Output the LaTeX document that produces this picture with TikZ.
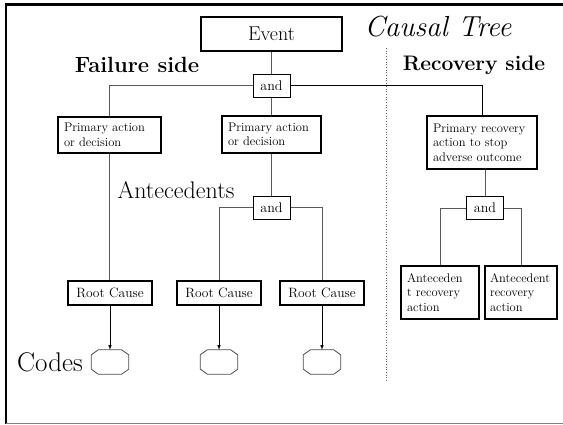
\documentclass[tikz,border=0pt]{standalone}
\usepackage{fontspec}
\usepackage{tikz}
\usetikzlibrary{positioning}

\begin{document}
\begin{tikzpicture}[x=1pt,y=-1pt,
        box/.style={draw,line width=1.2pt,inner sep=0pt,font=\fontsize{13.5}{15}\selectfont},
        andbox/.style={draw,line width=1pt,minimum width=37pt,minimum height=23pt,inner sep=0pt,font=\fontsize{14}{15}\selectfont},
        textbox/.style={draw,line width=1.2pt,align=left,inner xsep=6pt,inner ysep=0pt,font=\fontsize{12.5}{14.5}\selectfont},
        code/.style={minimum width=37pt,minimum height=24pt,inner sep=0pt},
        octagon/.style={draw=black!70,line width=0.8pt},
        link/.style={draw=black!65,line width=0.9pt},
        side/.style={font=\bfseries\fontsize{22}{24}\selectfont}]
        \useasboundingbox (0,0) rectangle (563,424);
        \draw[line width=2.5pt] (563,4.5) -- (6,4.5) -- (6,424);
        \draw[black!50,line width=1pt] (6,423) -- (563,423);
        \draw[dotted,black!60,line width=0.7pt] (386,48) -- (386,382);

        \node[box,minimum width=141pt,minimum height=34pt,font=\fontsize{20}{22}\selectfont] (event) at (271.5,34) {Event};
        \node[font=\itshape\fontsize{29}{30}\selectfont] (title) at (438,27) {Causal Tree};
        \node[side] (fail) at (137,65) {Failure side};
        \node[side,font=\bfseries\fontsize{21}{24}\selectfont] (recov) at (474,65) {Recovery side};
        \node[andbox] (and1) at (271.5,85.5) {and};

        \node[textbox,text width=91pt,minimum height=36pt] (act1) at (109.5,135) {Primary action\\or decision};
        \node[textbox,text width=87pt,minimum height=37pt] (act2) at (271.5,134.5) {Primary action\\or decision};
        \node[textbox,text width=98pt,minimum height=53pt] (rec) at (482,142.5) {Primary recovery\\action to stop\\adverse outcome};

        \node[font=\fontsize{24}{26}\selectfont] (ante) at (176,190) {Antecedents};
        \node[andbox] (and2) at (271.5,207.5) {and};
        \node[andbox] (and3) at (485,208) {and};

        \node[box,minimum width=84pt,minimum height=24pt] (rc1) at (110,293) {Root Cause};
        \node[box,minimum width=84pt,minimum height=24pt] (rc2) at (219,293) {Root Cause};
        \node[box,minimum width=84pt,minimum height=24pt] (rc3) at (322,293) {Root Cause};
        \node[textbox,text width=66pt,minimum height=53pt] (recA) at (440,292.5) {Anteceden\\t recovery\\action};
        \node[textbox,inner xsep=5pt,text width=62pt,minimum height=53pt] (recB) at (521,292.5) {Antecedent\\recovery\\action};

        \node[font=\fontsize{27}{28}\selectfont] (codes) at (50,362) {Codes};
        \foreach \i/\x in {1/110,2/219,3/322} {
            \node[code] (code\i) at (\x,362) {};
            \draw[octagon] ([xshift=7pt]code\i.north west) -- ([xshift=-7pt]code\i.north east)
                -- ([yshift=-5pt]code\i.north east) -- ([yshift=5pt]code\i.south east)
                -- ([xshift=-7pt]code\i.south east) -- ([xshift=7pt]code\i.south west)
                -- ([yshift=5pt]code\i.south west) -- ([yshift=-5pt]code\i.north west) -- cycle;
        }

        \draw[link] (event) -- (and1);
        \draw[link] (and1) -| (act1);
        \draw[line width=0.9pt] (and1) -| (rec);
        \draw[link] (and1) -- (act2);
        \draw[link] (act1.south) -- (act1.south |- rc1.north);
        \draw[link] (act2) -- (and2);
        \draw[link] (and2) -| (rc2);
        \draw[link] (and2) -| (rc3);
        \draw[link] (and3.north |- rec.south) -- (and3.north);
        \draw[link] (and3) -| (recA);
        \draw[link] (and3) -| (recB);
        \draw[->,>=latex,line width=0.6pt] (rc1) -- (code1);
        \draw[->,>=latex,line width=0.6pt] (rc2) -- (code2);
        \draw[->,>=latex,line width=0.6pt] (rc3) -- (code3);
    \end{tikzpicture}
\end{document}
